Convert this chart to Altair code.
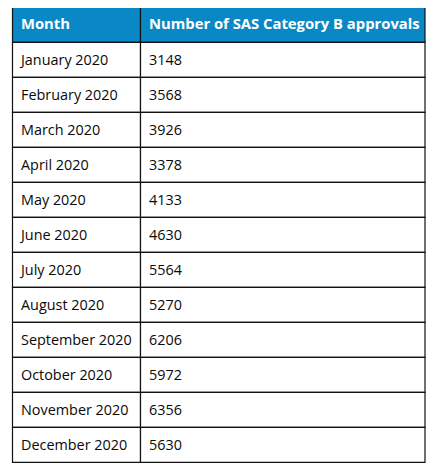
import altair as alt
import pandas as pd

header = ["Month", "Number of SAS Category B approvals"]
months = ["January 2020", "February 2020", "March 2020", "April 2020", "May 2020",
          "June 2020", "July 2020", "August 2020", "September 2020", "October 2020",
          "November 2020", "December 2020"]
approvals = [3148, 3568, 3926, 3378, 4133, 4630, 5564, 5270, 6206, 5972, 6356, 5630]

# layout: column edges (px within the plot area)
col_edges = [0, 128, 412.5]

records = []
for c in range(2):
    records.append({"row": 0, "col": c, "x0": col_edges[c], "x1": col_edges[c + 1],
                    "text": header[c], "kind": "head"})
for i, (m, v) in enumerate(zip(months, approvals)):
    for c, t in enumerate([m, str(v)]):
        records.append({"row": i + 1, "col": c, "x0": col_edges[c], "x1": col_edges[c + 1],
                        "text": t, "kind": "body"})
df = pd.DataFrame(records)

n_rows = len(months) + 1
row_h = 35
H = n_rows * row_h
W = 413

xs = alt.Scale(domain=[0, W], range=[0, W])
ys = alt.Scale(paddingInner=0, paddingOuter=0, range=[-0.7, H - 0.7])

base = alt.Chart(df)

head_rect = base.transform_filter(alt.datum.kind == "head").mark_rect(
    fill="#0a88c6", stroke="#111111", strokeWidth=1.2
).encode(
    x=alt.X("x0:Q", scale=xs, axis=None), x2="x1:Q",
    y=alt.Y("row:O", scale=ys, axis=None),
)
body_rect = base.transform_filter(alt.datum.kind == "body").mark_rect(
    fill="white", stroke="#111111", strokeWidth=1.2
).encode(
    x=alt.X("x0:Q", scale=xs, axis=None), x2="x1:Q",
    y=alt.Y("row:O", scale=ys, axis=None),
)
head_text = base.transform_filter(alt.datum.kind == "head").mark_text(
    align="left", baseline="middle", dx=8.5, dy=0.5, font="Open Sans", fontSize=14.8,
    fontWeight="bold", color="white"
).encode(
    x=alt.X("x0:Q", scale=xs, axis=None),
    y=alt.Y("row:O", scale=ys, axis=None),
    text="text:N",
)
body_text = base.transform_filter(alt.datum.kind == "body").mark_text(
    align="left", baseline="middle", dx=8.5, dy=1, font="Open Sans", fontSize=14.4,
    color="#0a0a0a"
).encode(
    x=alt.X("x0:Q", scale=xs, axis=None),
    y=alt.Y("row:O", scale=ys, axis=None),
    text="text:N",
)

chart = alt.layer(head_rect, body_rect, head_text, body_text).properties(
    width=W, height=H,
    padding={"left": 4.5, "top": 0, "right": 0, "bottom": 0},
    autosize=alt.AutoSizeParams(type="none"),
    background="white",
).configure_view(stroke=None)

chart.save("out.html", embed_options={"renderer": "svg", "actions": False})
